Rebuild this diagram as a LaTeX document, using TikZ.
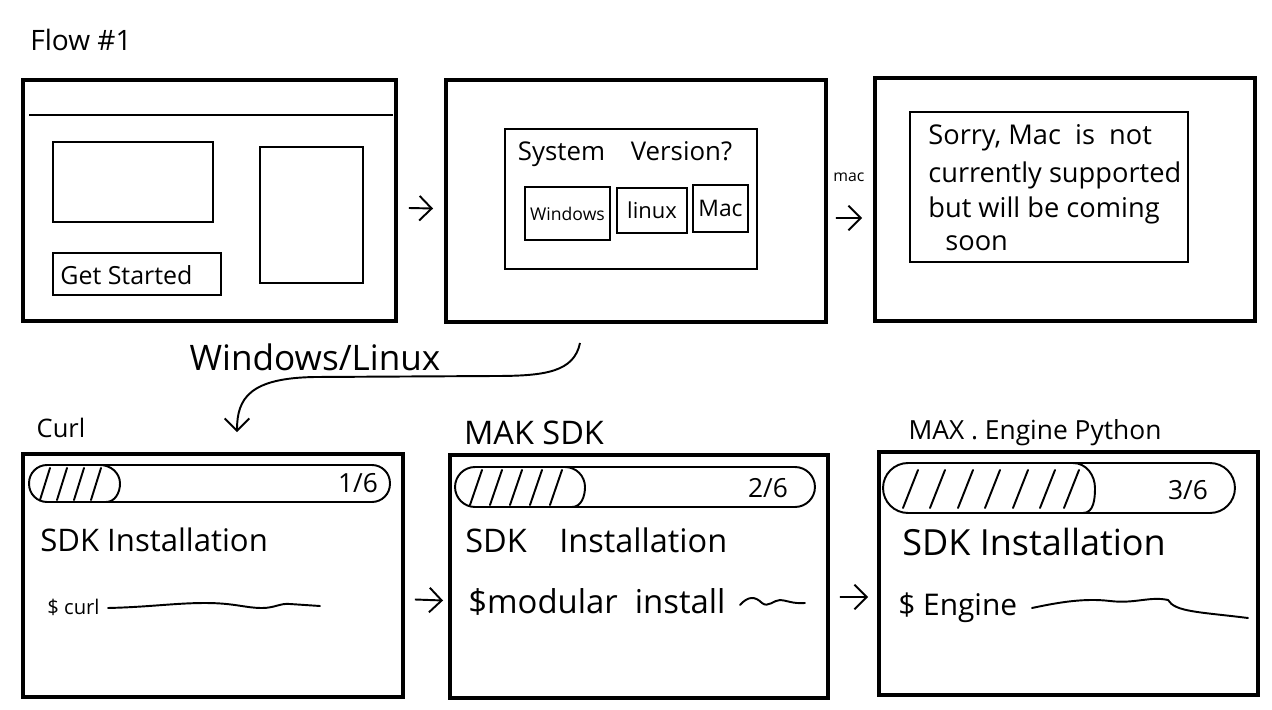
\documentclass[tikz,border=0pt]{standalone}
\usepackage{fontspec}
\setmainfont{Open Sans}
\usetikzlibrary{arrows.meta,calc}
\newcommand\fsz[1]{\fontsize{#1}{#1}\selectfont}
\begin{document}
\begin{tikzpicture}[x=0.02cm,y=-0.02cm,
  frame/.style={draw, line width=2.2pt, inner sep=0pt, outer sep=0pt},
  sk/.style={draw, line width=1.1pt, inner sep=0pt, outer sep=0pt},
  bar/.style={draw, line width=1.1pt, inner sep=0pt, outer sep=0pt},
  hatch/.style={line width=1.1pt, line cap=round},
  lbl/.style={inner sep=0pt, anchor=west},
  ctr/.style={inner sep=0pt},
  fsorry/.style={font=\fsz{15.5}},
  arr/.style={line width=1.1pt, -{Straight Barb[length=7pt,width=14pt,line width=1.1pt]}},
  wig/.style={line width=1.1pt, line cap=round}
]
\useasboundingbox (0,0) rectangle (1272,710);
\fill[white] (0,0) rectangle (1272,710);

% title
\node[ctr, font=\fsz{16}] (flow) at (81,40) {Flow \#1};

% ---------- frames ----------
\node[frame, minimum width=7.46cm, minimum height=4.82cm] (A) at (209.5,200.5) {};
\node[frame, minimum width=7.6cm,  minimum height=4.84cm] (B) at (636,201) {};
\node[frame, minimum width=7.6cm,  minimum height=4.86cm] (C) at (1065,199.5) {};
\node[frame, minimum width=7.6cm,  minimum height=4.86cm] (D) at (213,575.5) {};
\node[frame, minimum width=7.56cm, minimum height=4.86cm] (E) at (639,576.5) {};
\node[frame, minimum width=7.58cm, minimum height=4.86cm] (F) at (1068.5,573.5) {};

% ---------- frame A: landing ----------
\draw[line width=1.1pt] (29,115) -- (393,115);
\node[sk, minimum width=3.2cm, minimum height=1.6cm] (hero) at (133,182) {};
\node[sk, minimum width=2.06cm, minimum height=2.72cm] (side) at (311.5,215) {};
\node[sk, minimum width=3.36cm, minimum height=0.84cm] (gs) at (137,274) {};
\node[lbl, font=\fsz{14.2}] (gst) at (60,275) {Get Started};

% ---------- frame B: system version ----------
\node[sk, minimum width=5.04cm, minimum height=2.8cm] (dlg) at (631,199) {};
\node[ctr, font=\fsz{14.7}] (sv) at (625,154) {System\quad Version?};
\node[sk, font=\fsz{10}, minimum width=1.7cm, minimum height=1.06cm] (win) at (567.5,213.5) {Windows};
\node[sk, font=\fsz{12.5}, minimum width=1.4cm, minimum height=0.9cm] (lin) at (652,210.5) {linux};
\node[sk, font=\fsz{13}, minimum width=1.1cm, minimum height=0.94cm] (mac) at (720.5,208.5) {Mac};

% ---------- frame C: sorry ----------
\node[sk, minimum width=5.56cm, minimum height=3.0cm] (sorry) at (1049,187) {};
\node[lbl, fsorry] (s1) at (928,138) {Sorry, Mac\ \ is\ \ not};
\node[lbl, fsorry] (s2) at (928,175) {currently supported};
\node[lbl, fsorry] (s3) at (928,210) {but will be coming};
\node[lbl, fsorry] (s4) at (945,243) {soon};

% ---------- connectors top row ----------
\draw[arr] ([xshift=0.26cm,yshift=-0.15cm]A.east) -- ([xshift=-0.26cm,yshift=-0.15cm]B.west);
\draw[arr] ([xshift=0.2cm,yshift=-0.34cm]B.east) -- ([xshift=-0.26cm,yshift=-0.37cm]C.west);
\node[ctr, font=\fsz{9}] (maclbl) at (849,177) {mac};

% curved connector to second row
\coordinate (cs) at ([xshift=-1.12cm,yshift=-0.42cm]B.south);
\coordinate (ce) at ([xshift=0.48cm,yshift=0.44cm]D.north);
\draw[arr] (cs) .. controls (574,372) and (545,376) .. (495,376) -- (315,377)
  .. controls (250,378) and (237,398) .. (ce);
\node[ctr, font=\fsz{20}] (wl) at (315,357) {Windows/Linux};

% ---------- row labels ----------
\node[ctr, font=\fsz{14.5}] (curl) at (61,428) {Curl};
\node[ctr, font=\fsz{18.5}] (mak) at (534,433) {MAK SDK};
\node[ctr, font=\fsz{15}] (maxe) at (1035,433) {MAX . Engine Python};

% ---------- frame D ----------
\node[bar, rounded corners=0.36cm, minimum width=7.22cm, minimum height=0.74cm] (barD) at (209.5,483.5) {};
\begin{scope}
  \clip[rounded corners=0.36cm] (barD.south west) rectangle (barD.north east);
  \draw[line width=1.1pt] (100,465) to[out=0,in=90] (120,483.5) to[out=-90,in=0] (106,502);
  \foreach \x in {40,57,74,91} \draw[hatch] (\x,500) -- (\x+10,468);
\end{scope}
\node[ctr, font=\fsz{15}] (pD) at (358,483) {1/6};
\node[lbl, font=\fsz{17.7}] (sdkD) at (40,540) {SDK Installation};
\node[lbl, font=\fsz{11.5}] (cmdD) at (47,607) {\$ curl};
\draw[wig] (108,608) .. controls (150,607) and (175,603) .. (205,603)
  .. controls (235,603) and (245,608) .. (262,608)
  .. controls (275,608) and (280,603) .. (290,604) -- (320,606);

% ---------- frame E ----------
\node[bar, rounded corners=0.4cm, minimum width=7.2cm, minimum height=0.8cm] (barE) at (635,487) {};
\begin{scope}
  \clip[rounded corners=0.4cm] (barE.south west) rectangle (barE.north east);
  \draw[line width=1.1pt] (565,467) to[out=0,in=90] (585,487) to[out=-90,in=0] (572,507);
  \foreach \x in {470,490,510,530,550} \draw[hatch] (\x,505) -- (\x+12,470);
\end{scope}
\node[ctr, font=\fsz{15}] (pE) at (768,488) {2/6};
\node[lbl, font=\fsz{18.5}] (sdkE) at (465,540) {SDK\quad Installation};
\node[lbl, font=\fsz{18.7}] (cmdE) at (468,602) {\$modular\ \ install};
\draw[wig] (740,605) .. controls (748,596) and (755,596) .. (762,603)
  .. controls (768,608) and (774,600) .. (780,600)
  .. controls (786,600) and (792,604) .. (805,603);

% ---------- frame F ----------
\node[bar, rounded corners=0.5cm, minimum width=7.04cm, minimum height=1.0cm] (barF) at (1059,488) {};
\begin{scope}
  \clip[rounded corners=0.5cm] (barF.south west) rectangle (barF.north east);
  \draw[line width=1.1pt] (1073,463) to[out=0,in=90] (1095,488) to[out=-90,in=0] (1083,513);
  \foreach \x in {903,930,958,985,1013,1040,1064} \draw[hatch] (\x,508) -- (\x+15,470);
\end{scope}
\node[ctr, font=\fsz{15}] (pF) at (1188,490) {3/6};
\node[lbl, font=\fsz{20.5}] (sdkF) at (902,542) {SDK Installation};
\node[lbl, font=\fsz{17}] (cmdF) at (898,608) {\$ Engine};
\draw[wig] (1032,608) .. controls (1060,602) and (1085,598) .. (1110,601)
  .. controls (1135,604) and (1150,596) .. (1168,600)
  .. controls (1175,612) and (1200,612) .. (1248,618);

% ---------- connectors bottom row ----------
\draw[arr] ([xshift=0.24cm,yshift=-0.48cm]D.east) -- ([xshift=-0.14cm,yshift=-0.48cm]E.west);
\draw[arr] ([xshift=0.24cm,yshift=-0.41cm]E.east) -- ([xshift=-0.22cm,yshift=-0.47cm]F.west);
\end{tikzpicture}
\end{document}
